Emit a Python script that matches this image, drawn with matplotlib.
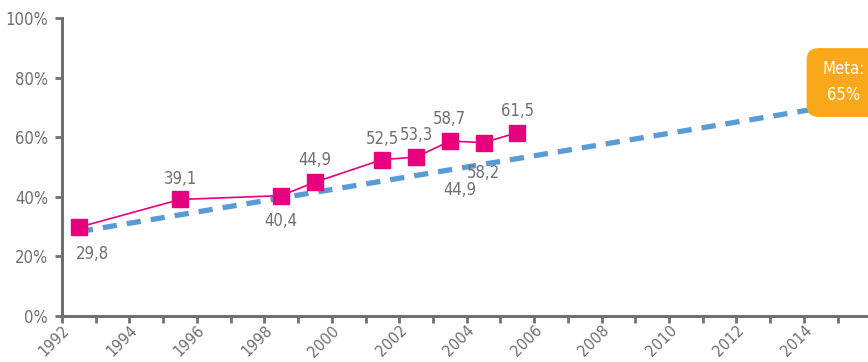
import matplotlib.pyplot as plt
from matplotlib.patches import FancyBboxPatch

plt.rcParams['font.family'] = ['DejaVu Sans']
plt.rcParams['font.stretch'] = 'condensed'

# observed rate per survey year
years = [1992, 1995, 1998, 1999, 2001, 2002, 2003, 2004, 2005]
values = [29.8, 39.1, 40.4, 44.9, 52.5, 53.3, 58.7, 58.2, 61.5]
value_labels = ["29,8", "39,1", "40,4", "44,9", "52,5", "53,3", "58,7", "58,2", "61,5"]
label_offsets = [(10, -19), (0, 15), (0, -18), (0, 16), (0, 15), (0, 16), (0, 16), (0, -22), (0, 16)]

# trend toward the goal
trend_years = [1992, 2014]
trend_values = [28.3, 69.8]

goal_text = "Meta:\n65%"
tick_years = list(range(1992, 2016, 2))

gray = "#707070"
pink = "#E6007E"
blue = "#5B9BD5"
orange = "#F9A81A"

fig = plt.figure(figsize=(8.68, 3.62), dpi=100)
ax = fig.add_axes([62 / 868, 1 - 316 / 362, 1 - 62 / 868, 298 / 362])

# years are drawn at the centre of each category slot
ax.plot([y + 0.5 for y in trend_years], trend_values, color=blue, lw=3.8,
        dashes=(2.7, 1.9), solid_capstyle="butt", zorder=2)
ax.plot([y + 0.5 for y in years], values, color=pink, lw=1.2, marker="s",
        markersize=11, zorder=3)

for y, v, lab, off in zip(years, values, value_labels, label_offsets):
    ax.annotate(lab, (y + 0.5, v), xytext=off, textcoords="offset points",
                ha="center", va="center", fontsize=12, color=gray)
ax.text(2003.8, 42.3, "44,9", ha="center", va="center", fontsize=12, color=gray)

# goal box at the end of the trend
box = FancyBboxPatch((2014.08, 66.8), 2.3, 23.1,
                     boxstyle="round,pad=0,rounding_size=0.36",
                     mutation_aspect=11.3, facecolor=orange, edgecolor="none",
                     clip_on=False, zorder=4)
ax.add_patch(box)
ax.text(2015.17, 78.5, goal_text, ha="center", va="center", fontsize=12,
        color="white", linespacing=1.55, zorder=5)

ax.set_xlim(1992, 2015.9)
ax.set_ylim(0, 100)
ax.set_xticks(tick_years)
ax.set_xticks(range(1993, 2016, 2), minor=True)
ax.set_xticklabels([str(t) for t in tick_years], rotation=45, ha="right",
                   rotation_mode="anchor", fontsize=11.5, color=gray)
ax.set_yticks(range(0, 101, 20))
ax.set_yticklabels([f"{t}%" for t in range(0, 101, 20)], fontsize=12, color=gray)

ax.tick_params(axis="both", which="both", color=gray, width=2, length=5)
ax.tick_params(axis="x", which="both", pad=0)
ax.tick_params(axis="y", pad=5)
for side in ["top", "right"]:
    ax.spines[side].set_visible(False)
for side in ["left", "bottom"]:
    ax.spines[side].set_color(gray)
    ax.spines[side].set_linewidth(2.2)

fig.savefig("out.png", dpi=100)
